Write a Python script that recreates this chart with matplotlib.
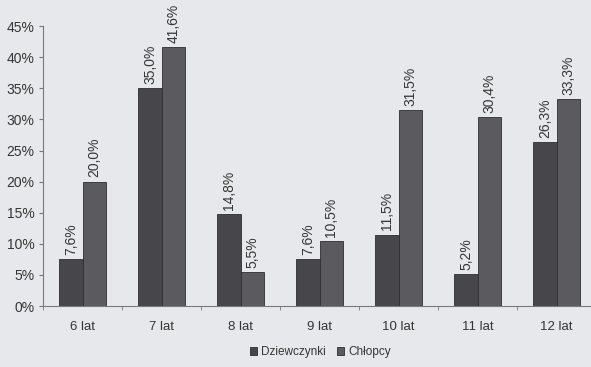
import matplotlib.pyplot as plt
import numpy as np
from matplotlib.ticker import FixedLocator, PercentFormatter

categories = ["6 lat", "7 lat", "8 lat", "9 lat", "10 lat", "11 lat", "12 lat"]
dziewczynki = [7.6, 35.0, 14.8, 7.6, 11.5, 5.2, 26.3]
chlopcy = [20.0, 41.6, 5.5, 10.5, 31.5, 30.4, 33.3]
series_names = ["Dziewczynki", "Chłopcy"]

bg = "#e7e8eb"
txt = "#353535"
c_girls = "#47474b"
c_boys = "#5b5b5f"

plt.rcParams["font.family"] = ["Liberation Sans", "DejaVu Sans"]

fig = plt.figure(figsize=(5.91, 3.67), dpi=100, facecolor=bg)
ax = fig.add_axes([0.0728, 0.166, 0.936, 0.763], facecolor=bg)

x = np.arange(len(categories))
w = 0.295
b1 = ax.bar(x - w / 2, dziewczynki, w, color=c_girls, edgecolor="#2e2e32", linewidth=0.6, label=series_names[0])
b2 = ax.bar(x + w / 2, chlopcy, w, color=c_boys, edgecolor="#2e2e32", linewidth=0.6, label=series_names[1])

for bars, vals in ((b1, dziewczynki), (b2, chlopcy)):
    for r, v in zip(bars, vals):
        ax.annotate(f"{v:.1f}%".replace(".", ","), (r.get_x() + r.get_width() / 2, v),
                    xytext=(0, 3), textcoords="offset points", rotation=90,
                    ha="center", va="bottom", fontsize=10, color=txt)

ax.set_xlim(-0.5, len(categories) - 0.5)
ax.set_ylim(0, 45)
ax.yaxis.set_major_locator(FixedLocator(np.arange(0, 46, 5)))
ax.yaxis.set_major_formatter(PercentFormatter(decimals=0))
ax.set_xticks(x)
ax.set_xticklabels(categories)
ax.xaxis.set_minor_locator(FixedLocator(np.arange(-0.5, len(categories), 1)))
ax.tick_params(axis="x", which="major", length=0, pad=11, labelsize=9.5, labelcolor=txt)
ax.tick_params(axis="x", which="minor", length=3, color="#777777", direction="out")
ax.tick_params(axis="y", length=3, color="#777777", labelsize=10, labelcolor=txt, pad=3)

for s in ("top", "right"):
    ax.spines[s].set_visible(False)
for s in ("left", "bottom"):
    ax.spines[s].set_color("#7a7a7a")
    ax.spines[s].set_linewidth(0.8)

leg = fig.legend(handles=[b1, b2], labels=series_names, loc="center", bbox_to_anchor=(0.542, 0.04),
                 ncol=2, frameon=False, fontsize=8.5, handlelength=0.6, handleheight=0.6,
                 handletextpad=0.4, columnspacing=0.9, labelcolor=txt)

fig.savefig("out.png", dpi=100, facecolor=bg)
